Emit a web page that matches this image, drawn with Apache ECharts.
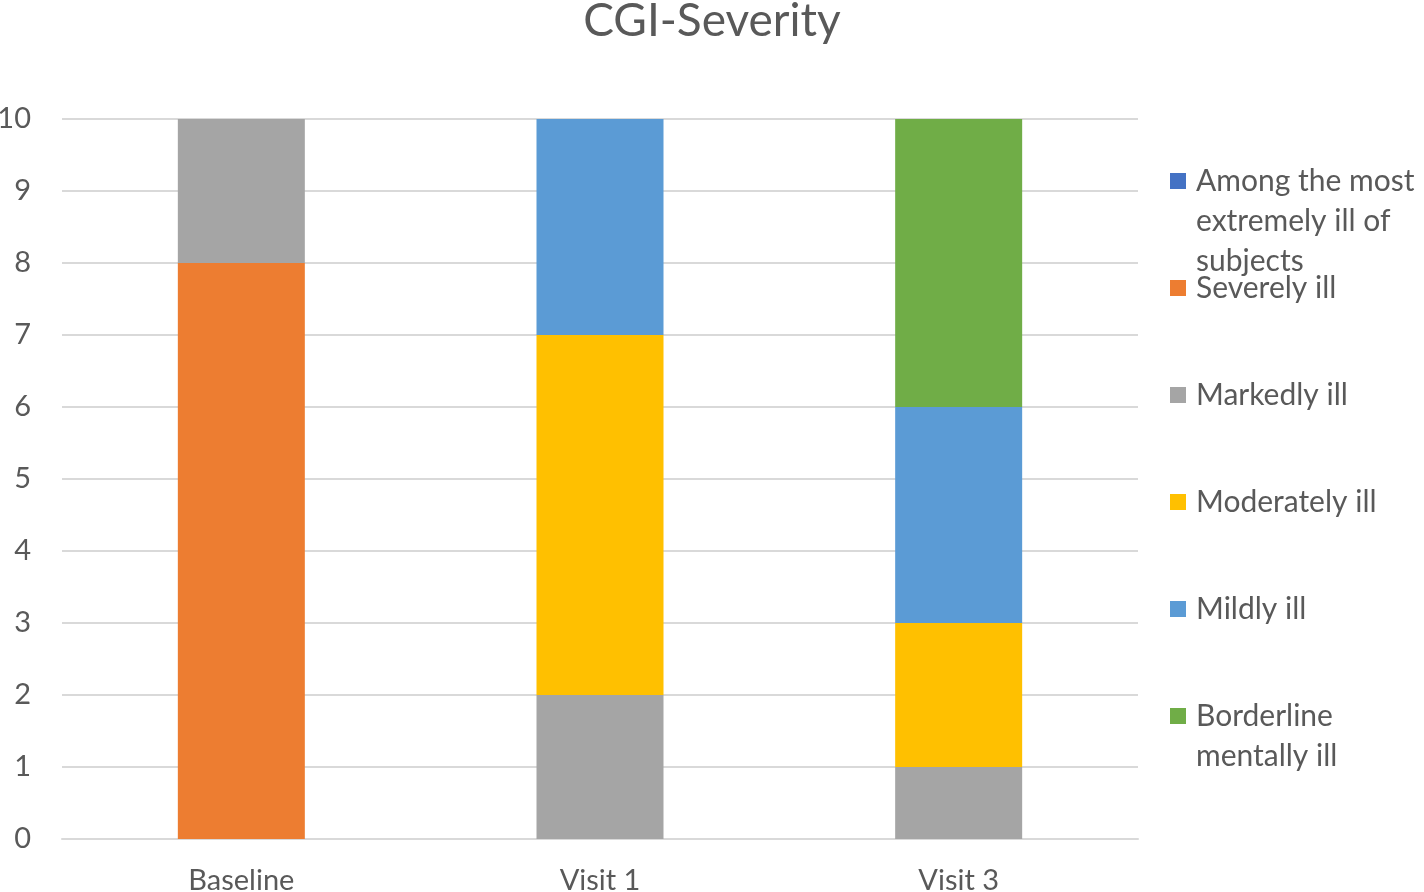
<!DOCTYPE html>
<html><head><meta charset="utf-8">
<script src="https://cdn.jsdelivr.net/npm/echarts@6/dist/echarts.min.js"></script>
<style>html,body{margin:0;padding:0;background:#fff}#c{width:1424px;height:892px}</style>
</head><body><div id="c"></div>
<script>
const categories = ['Baseline', 'Visit 1', 'Visit 3'];
const seriesNames = ['Among the most extremely ill of subjects', 'Severely ill', 'Markedly ill', 'Moderately ill', 'Mildly ill', 'Borderline mentally ill'];
const amongMost = [0, 0, 0];
const severely = [8, 0, 0];
const markedly = [2, 2, 1];
const moderately = [0, 5, 2];
const mildly = [0, 3, 3];
const borderline = [0, 0, 4];
const yTicks = [0,1,2,3,4,5,6,7,8,9,10];

const colors = ['#4472C4', '#ED7D31', '#A5A5A5', '#FFC000', '#5B9BD5', '#70AD47'];
const values = [amongMost, severely, markedly, moderately, mildly, borderline];
const legendLabels = ['Among the most\nextremely ill of\nsubjects', 'Severely ill', 'Markedly ill', 'Moderately ill', 'Mildly ill', 'Borderline\nmentally ill'];
const iconCenters = [181, 288, 395, 502, 609, 716];
const font = 'Lato';
const lh = 40;

const legends = seriesNames.map((n, i) => {
  const lines = legendLabels[i].split('\n');
  const padded = Array(lines.length - 1).fill('\u00a0').concat(lines).join('\n');
  const H = (2 * lines.length - 1) * lh;
  return {
    orient: 'vertical', left: 1170, top: iconCenters[i] - H / 2,
    data: [n], itemWidth: 16, itemHeight: 16, itemGap: 0, padding: 0,
    icon: 'rect',
    formatter: () => padded,
    textStyle: { fontFamily: font, fontSize: 30, color: '#595959', lineHeight: lh, padding: [0, 0, 0, 5] },
    selectedMode: false
  };
});

const chart = echarts.init(document.getElementById('c'));
chart.setOption({
  animation: false,
  title: { text: 'CGI-Severity', left: 'center', top: -7, textStyle: { fontFamily: font, fontSize: 46, fontWeight: 'normal', color: '#595959' } },
  grid: { left: 62, right: 286, top: 119, bottom: 53, containLabel: false, outerBoundsMode: 'none' },
  legend: legends,
  xAxis: {
    type: 'category', data: categories,
    axisLine: { lineStyle: { color: '#D9D9D9', width: 2 } },
    axisTick: { show: false },
    axisLabel: { fontFamily: font, fontSize: 29, color: '#595959', margin: 27 }
  },
  yAxis: {
    type: 'value', min: yTicks[0], max: yTicks[yTicks.length - 1], interval: 1,
    axisLine: { show: false }, axisTick: { show: false },
    splitLine: { lineStyle: { color: '#D9D9D9', width: 2 } },
    axisLabel: { fontFamily: font, fontSize: 29, color: '#595959', margin: 31 }
  },
  series: seriesNames.map((n, i) => ({
    name: n, type: 'bar', stack: 'total', data: values[i], barWidth: 127,
    itemStyle: { color: colors[i] }
  }))
});
</script></body></html>
